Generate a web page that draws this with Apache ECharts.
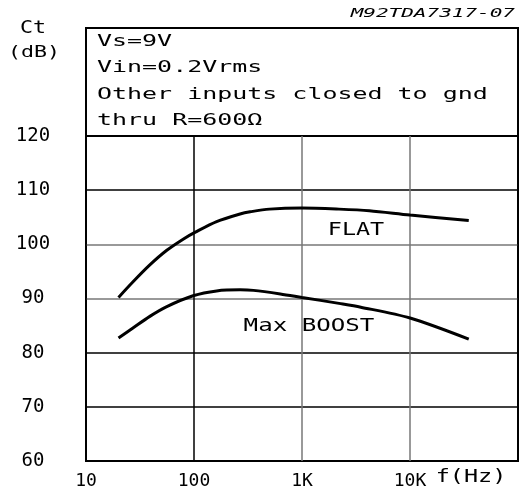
<!DOCTYPE html>
<html>
<head>
<meta charset="utf-8">
<script src="https://cdn.jsdelivr.net/npm/echarts@6/dist/echarts.min.js"></script>
<style>html,body{margin:0;padding:0;background:#fff;}#c{width:521px;height:500px;}</style>
</head>
<body>
<div id="c"></div>
<script>
// ---- data ----
const flatFreq = [20, 27, 39, 56, 80, 102, 162, 267, 331, 500, 1000, 2200, 4200, 10000, 35000];
const flatDb   = [90.2, 93.0, 96.2, 98.9, 101.0, 102.2, 104.2, 105.6, 106.0, 106.5, 106.7, 106.5, 106.2, 105.4, 104.4];
const boostFreq = [20, 27, 39, 56, 98, 162, 267, 355, 630, 1000, 2200, 3500, 10000, 35000];
const boostDb   = [82.7, 84.5, 86.7, 88.5, 90.5, 91.4, 91.6, 91.5, 90.85, 90.2, 89.1, 88.4, 86.4, 82.5];
const xTickValues = [10, 100, 1000, 10000, 100000];
const xTickLabels = ['10', '100', '1K', '10K', ''];
const yTickLabels = ['60', '70', '80', '90', '100', '110', '120'];
const boxLines = ['Vs=9V', 'Vin=0.2Vrms', 'Other inputs closed to gnd', 'thru R=600Ω'];

const MONO = '"DejaVu Sans Mono", "Liberation Mono", monospace';
const chart = echarts.init(document.getElementById('c'), null, {renderer: 'canvas'});

function pairs(f, d) { return f.map((v, i) => [v, d[i]]); }

function txt(x, y, s, size, align, sx) {
  return {
    type: 'text', x: x, y: y, scaleX: sx || 1,
    style: {text: s, font: size + 'px ' + MONO, fill: '#000',
      textAlign: align || 'left', textVerticalAlign: 'middle'}
  };
}

const graphics = [];
const boxY = [41.5, 68, 94.5, 121];
boxLines.forEach((s, i) => graphics.push(txt(97, boxY[i], s, 16, 'left', 1.56)));
graphics.push(txt(33, 28, 'Ct', 18, 'center', 1.2));
graphics.push(txt(34, 53, '(dB)', 16, 'center', 1.35));
graphics.push(txt(471, 478, 'f(Hz)', 17, 'center', 1.38));
graphics.push({type: 'text', x: 515, y: 14, scaleX: 1.75,
  style: {text: 'M92TDA7317-07', font: 'italic 12px ' + MONO, fill: '#000', textAlign: 'right', textVerticalAlign: 'middle'}});
graphics.push(txt(356, 230.5, 'FLAT', 17, 'center', 1.38));
graphics.push(txt(309, 327, 'Max BOOST', 17, 'center', 1.42));

const option = {
  backgroundColor: '#fff',
  animation: false,
  grid: [
    {left: 86, top: 136, width: 432, height: 325, show: true, borderColor: '#000', borderWidth: 2, backgroundColor: 'transparent'},
    {left: 86, top: 28, width: 432, height: 108, show: true, borderColor: '#000', borderWidth: 2, backgroundColor: 'transparent'}
  ],
  xAxis: [
    {type: 'log', logBase: 10, min: 10, max: 100000, gridIndex: 0,
      axisLine: {show: false}, axisTick: {show: false},
      axisLabel: {margin: 11, fontFamily: MONO, fontSize: 18, color: '#000',
        formatter: v => { const i = xTickValues.findIndex(t => Math.abs(t - v) / t < 1e-6); return i >= 0 ? xTickLabels[i] : ''; }},
      splitLine: {show: true, lineStyle: {color: ['#000', '#000', '#777', '#777', '#000'], width: 1.5}}},
    {type: 'value', gridIndex: 1, show: false, min: 0, max: 1}
  ],
  yAxis: [
    {type: 'value', min: 60, max: 120, interval: 10, gridIndex: 0,
      axisLine: {show: false}, axisTick: {show: false},
      axisLabel: {margin: 53, align: 'center', fontFamily: MONO, fontSize: 19, color: '#000',
        formatter: v => { const i = Math.round((v - 60) / 10); return yTickLabels[i] || ''; }},
      splitLine: {show: true, lineStyle: {color: ['#000', '#000', '#000', '#777', '#777', '#000', '#000'], width: 1.5}}},
    {type: 'value', gridIndex: 1, show: false, min: 0, max: 1}
  ],
  series: [
    {name: 'FLAT', type: 'line', xAxisIndex: 0, yAxisIndex: 0, data: pairs(flatFreq, flatDb),
      smooth: 0.3, showSymbol: false, lineStyle: {color: '#000', width: 3}},
    {name: 'Max BOOST', type: 'line', xAxisIndex: 0, yAxisIndex: 0, data: pairs(boostFreq, boostDb),
      smooth: 0.3, showSymbol: false, lineStyle: {color: '#000', width: 3}}
  ],
  graphic: graphics
};
chart.setOption(option);
</script>
</body>
</html>
